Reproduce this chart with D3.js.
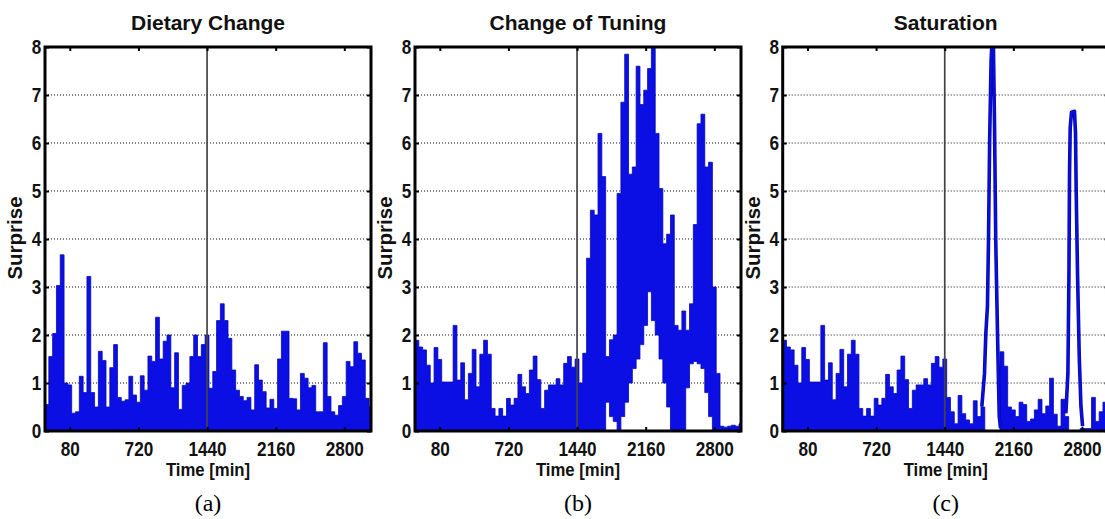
<!DOCTYPE html>
<html>
<head>
<meta charset="utf-8">
<script src="https://cdn.jsdelivr.net/npm/d3@7"></script>
<style>
  body { margin: 0; background: #fff; }
  svg { display: block; }
</style>
</head>
<body>
<div id="plotsContainer"></div>
<script>
// binned surprise values, one bin every 40 min starting at -260 min
const binStart = -260;
const binWidth = 40;

const xTickValues = [0, 720, 1440, 2160, 2880];
const xTickLabels = ["80", "720", "1440", "2160", "2800"];
const yTickValues = [0, 1, 2, 3, 4, 5, 6, 7, 8];
const gridValues = [1, 2, 3, 4, 5, 6, 7];
const panelTitles = ["Dietary Change", "Change of Tuning", "Saturation"];
const panelLetters = ["(a)", "(b)", "(c)"];

// (a) whole run
const dietarySurprise = [
    0.55, 1.55, 2.03, 3.03, 3.67, 1.0, 0.96, 0.37, 0.4, 1.14,
    0.8, 3.22, 0.8, 0.5, 1.66, 1.47, 0.5, 1.32, 1.8, 0.7,
    0.62, 0.65, 1.14, 0.75, 0.6, 1.15, 0.85, 1.56, 1.45, 2.37,
    1.5, 1.87, 2.0, 0.9, 1.63, 0.45, 0.95, 1.0, 1.55, 2.0,
    1.55, 1.8, 2.0,
    0.89, 1.24, 2.3, 2.65, 2.3, 1.93, 1.27, 0.85, 0.72, 0.63,
    0.7, 0.44, 1.38, 1.06, 0.82, 0.48, 0.66, 0.47, 1.5, 2.08,
    2.08, 0.68, 0.67, 0.44, 1.2, 1.1, 0.9, 0.95, 0.4, 0.4,
    1.84, 0.72, 0.4, 0.33, 0.53, 0.72, 1.45, 1.34, 1.86, 1.62,
    1.48, 0.68, 0.5
];

// (b) and (c) share the first day
const baselineDay1 = [
    1.89, 1.75, 1.69, 1.37, 1.0, 1.74, 1.49, 1.02, 1.02, 1.02,
    2.2, 1.06, 1.42, 0.65, 1.2, 1.7, 0.92, 1.6, 1.89, 1.6,
    0.47, 0.31, 0.47, 0.31, 0.68, 0.54, 0.68, 1.18, 0.92, 0.78,
    1.27, 1.56, 1.07, 0.47, 0.85, 0.96, 0.96, 1.09, 0.96, 1.41,
    1.55, 1.33, 1.5
];

// (b) second day: the signal swings between a low and a high envelope
const tuningDay2High = [
    1.0, 1.62, 3.6, 4.6, 4.5, 6.2, 5.3, 1.55, 1.9, 2.0,
    4.95, 6.85, 7.85, 5.35, 5.5, 7.6, 6.8, 7.1, 7.55, 8.2,
    6.2, 5.05, 3.9, 4.1, 4.5, 2.2, 2.1, 2.5, 2.1, 2.65,
    4.3, 6.4, 6.6, 5.5, 5.6, 3.0, 1.2, 0.1, 0.08, 0.1,
    0.12, 0.1, 0.15
];
const tuningDay2Low = [
    0, 0, 0, 0, 0, 0, 0, 0.6, 0.3, 0.2,
    0, 0.3, 0.6, 1.0, 1.3, 1.5, 1.8, 2.2, 2.9, 2.3,
    2.0, 1.5, 1.0, 0.5, 0, 0, 0, 0, 0.9, 1.4,
    1.45, 1.4, 1.3, 0.8, 0.3, 0, 0, 0, 0, 0,
    0, 0, 0
];

// (c) second day, background part
const saturationDay2 = [
    0.7, 0.4, 0.15, 0.74, 0.36, 0.23, 0.15, 0.63, 0.3, 0.5,
    0, 0, 0, 0, 1.65, 1.35, 0.5, 0.44, 0.3, 0.6,
    0.55, 0.2, 0.25, 0.44, 0.66, 0.36, 0.52, 1.1, 0.35, 0.1,
    0.66, 0.3, 0, 0, 0, 0.05, 0.05, 0.05, 0.7, 0.2,
    0.4, 0.6, 0.5
];

// (c) the two sharp peaks, drawn as a thick line
const peak1Times = [1829, 1857, 1871, 1888, 1899, 1911, 1926, 1936, 1950, 1962, 1975, 1988, 2002, 2012, 2025];
const peak1Values = [0.51, 1.2, 2.03, 2.6, 3.97, 6.05, 7.7, 8.13, 8.1, 6.4, 3.97, 2.6, 1.2, 0.3, 0.06];
const peak2Times = [2711, 2732, 2743, 2749, 2756, 2770, 2801, 2812, 2819, 2833, 2851, 2869, 2886];
const peak2Values = [0.37, 1.2, 3.28, 5.35, 6.32, 6.64, 6.66, 6.2, 5.0, 3.28, 1.55, 0.51, 0.1];

const width = 1105;
const height = 519;
const marginTop = 47;
const plotBottom = 431;
const plotWidth = 326;
const blue = "#0c0fe4";
const blueEdge = "#0608b4";
const sans = "'Liberation Sans', Arial, Helvetica, sans-serif";

const svg = d3.select("#plotsContainer")
    .append("svg")
    .attr("width", width)
    .attr("height", height)
    .style("background", "#fff");

const panels = [
    { left: 45, high: dietarySurprise, low: null, peaks: [] },
    { left: 415, high: baselineDay1.concat(tuningDay2High), low: baselineDay1.map(() => 0).concat(tuningDay2Low), peaks: [] },
    { left: 782.7, high: baselineDay1.concat(saturationDay2), low: null,
      peaks: [[peak1Times, peak1Values], [peak2Times, peak2Values]] }
];

panels.forEach((p, idx) => drawPanel(p, idx));

// the labels in the figure are a bit narrower than the font
function squeeze(sel) {
    sel.style("transform-box", "fill-box")
        .style("transform-origin", "center")
        .style("transform", "scaleX(0.88)");
}

function drawPanel(p, idx) {
    const x = d3.scaleLinear()
        .domain([binStart, 3160])
        .range([p.left, p.left + plotWidth]);
    const y = d3.scaleLinear()
        .domain([0, 8])
        .range([plotBottom, marginTop]);

    const g = svg.append("g");

    const clipId = `clip_${idx}`;
    g.append("clipPath")
        .attr("id", clipId)
        .append("rect")
        .attr("x", p.left)
        .attr("y", marginTop)
        .attr("width", plotWidth)
        .attr("height", plotBottom - marginTop);

    // dotted grid lines
    g.append("g")
        .selectAll("line")
        .data(gridValues)
        .enter()
        .append("line")
        .attr("x1", p.left)
        .attr("x2", p.left + plotWidth)
        .attr("y1", (d) => y(d))
        .attr("y2", (d) => y(d))
        .attr("stroke", "#111")
        .attr("stroke-width", 1)
        .attr("stroke-dasharray", "1,2");

    // step area between low and high envelope
    const points = p.high.map((h, i) => ({
        t: binStart + i * binWidth,
        hi: h,
        lo: p.low ? p.low[i] : 0,
    }));
    const last = points[points.length - 1];
    points.push({ t: last.t + binWidth, hi: last.hi, lo: last.lo });

    const area = d3.area()
        .x((d) => x(d.t))
        .y0((d) => y(d.lo))
        .y1((d) => y(d.hi))
        .curve(d3.curveStepAfter);

    const dataG = g.append("g").attr("clip-path", `url(#${clipId})`);

    dataG.append("path")
        .datum(points)
        .attr("d", area)
        .attr("fill", blue)
        .attr("stroke", blueEdge)
        .attr("stroke-width", 0.8);

    const line = d3.line()
        .x((d) => x(d[0]))
        .y((d) => y(d[1]));

    p.peaks.forEach((pk) => {
        const pts = pk[0].map((t, i) => [t, pk[1][i]]);
        dataG.append("path")
            .datum(pts)
            .attr("d", line)
            .attr("fill", "none")
            .attr("stroke", blueEdge)
            .attr("stroke-width", 3.6)
            .attr("stroke-linejoin", "round");
        dataG.append("path")
            .datum(pts)
            .attr("d", line)
            .attr("fill", "none")
            .attr("stroke", blue)
            .attr("stroke-width", 1.6)
            .attr("stroke-linejoin", "round");
    });

    // day boundary
    g.append("line")
        .attr("x1", x(1440))
        .attr("x2", x(1440))
        .attr("y1", marginTop)
        .attr("y2", plotBottom)
        .attr("stroke", "#444")
        .attr("stroke-width", 1.7);

    // axes, ticks pointing inward like matlab
    const xAxis = g.append("g")
        .attr("transform", `translate(0,${plotBottom})`)
        .call(d3.axisBottom(x)
            .tickValues(xTickValues)
            .tickFormat((d, i) => xTickLabels[i])
            .tickSizeInner(-4)
            .tickSizeOuter(0)
            .tickPadding(11));
    g.append("g")
        .attr("transform", `translate(0,${marginTop})`)
        .call(d3.axisTop(x).tickValues(xTickValues).tickFormat("").tickSizeInner(-4).tickSizeOuter(0));

    const yAxis = g.append("g")
        .attr("transform", `translate(${p.left},0)`)
        .call(d3.axisLeft(y)
            .tickValues(yTickValues)
            .tickSizeInner(-4)
            .tickSizeOuter(0)
            .tickPadding(3));
    g.append("g")
        .attr("transform", `translate(${p.left + plotWidth},0)`)
        .call(d3.axisRight(y).tickValues(yTickValues).tickFormat("").tickSizeInner(-4).tickSizeOuter(0));

    g.selectAll(".domain").remove();
    g.selectAll(".tick line").attr("stroke", "#000").attr("stroke-width", 2);

    [xAxis, yAxis].forEach((ax) => {
        ax.attr("font-family", sans)
            .attr("font-size", 19.5)
            .attr("font-weight", "bold");
        ax.selectAll("text").attr("fill", "#111").call(squeeze);
    });

    // box
    g.append("rect")
        .attr("x", p.left)
        .attr("y", marginTop)
        .attr("width", plotWidth)
        .attr("height", plotBottom - marginTop)
        .attr("fill", "none")
        .attr("stroke", "#000")
        .attr("stroke-width", 3);

    const cx = p.left + plotWidth / 2;

    g.append("text")
        .attr("x", cx)
        .attr("y", 30)
        .attr("text-anchor", "middle")
        .style("font-family", sans)
        .style("font-size", "21px")
        .style("font-weight", "bold")
        .style("fill", "#111")
        .text(panelTitles[idx]);

    g.append("text")
        .attr("transform", `translate(${p.left - 23},238) rotate(-90)`)
        .attr("text-anchor", "middle")
        .style("font-family", sans)
        .style("font-size", "20.5px")
        .style("font-weight", "bold")
        .style("fill", "#111")
        .text("Surprise");

    g.append("text")
        .attr("x", cx)
        .attr("y", 476)
        .attr("text-anchor", "middle")
        .style("font-family", sans)
        .style("font-size", "19px")
        .style("font-weight", "bold")
        .style("fill", "#111")
        .text("Time [min]")
        .call(squeeze);

    g.append("text")
        .attr("x", cx)
        .attr("y", 511)
        .attr("text-anchor", "middle")
        .style("font-family", "'Liberation Serif', 'Times New Roman', serif")
        .style("font-size", "24px")
        .style("fill", "#000")
        .text(panelLetters[idx]);
}
</script>
</body>
</html>
